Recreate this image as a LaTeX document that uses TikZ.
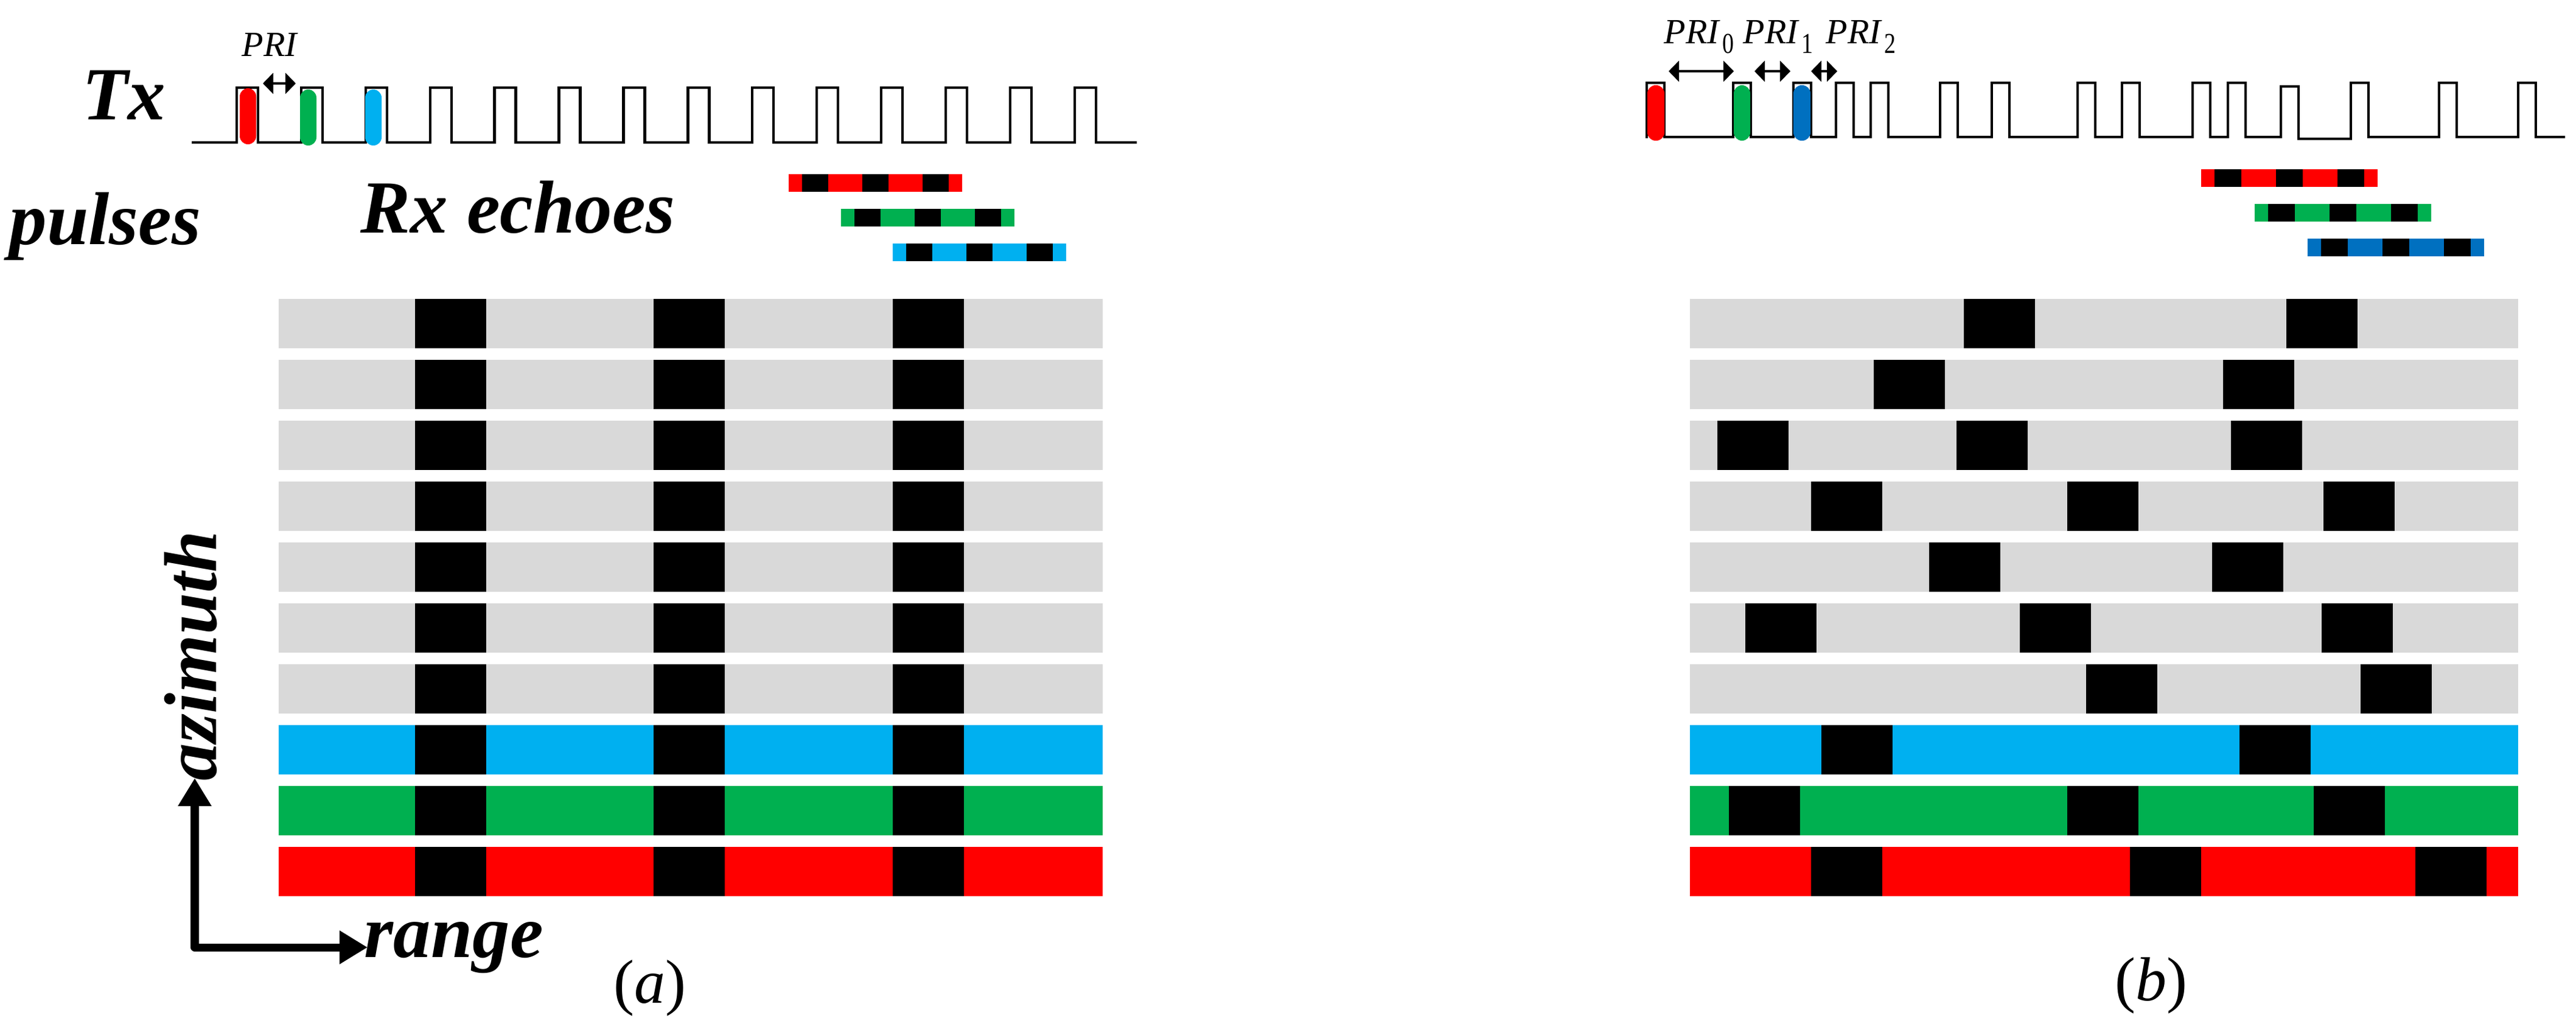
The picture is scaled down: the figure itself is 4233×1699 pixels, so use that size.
\documentclass[tikz,border=0pt]{standalone}
\usepackage{fontspec}
\setmainfont{Liberation Serif}
\usetikzlibrary{arrows.meta}
\definecolor{cgrey}{HTML}{D9D9D9}
\definecolor{ccyan}{HTML}{00B0F0}
\definecolor{cgreen}{HTML}{00B050}
\definecolor{cred}{HTML}{FF0000}
\definecolor{cblue}{HTML}{0070C0}
\tikzset{
  bigl/.style={font=\fontsize{35pt}{40pt}\selectfont\bfseries\itshape, inner sep=0pt},
  pril/.style={font=\fontsize{16.5pt}{20pt}\selectfont\itshape, inner sep=0pt},
  capl/.style={font=\fontsize{29pt}{34pt}\selectfont, inner sep=0pt},
  train/.style={line width=1.25pt, line join=miter, line cap=rect},
  priarrow/.style={line width=1.1pt, {Triangle[width=0.34cm,length=0.17cm]}-{Triangle[width=0.34cm,length=0.17cm]}},
  axisarrow/.style={line width=3.7pt, line join=round, {Triangle[width=0.52cm,length=0.46cm]}-{Triangle[width=0.52cm,length=0.46cm]}},
  stadium/.style={rounded corners=0.135cm},
}
\newcommand{\echobar}[4]{%
  \fill[#4] (#1,#2) rectangle ++(#3,29);
  \foreach \f in {0.076,0.424,0.772} \fill[black] ({#1+\f*#3},#2) rectangle ++({0.152*#3},29);
}
\newcommand{\subdig}[1]{\hspace{0.06cm}\raisebox{-0.16cm}{\fontsize{13.5pt}{14pt}\selectfont\upshape\scalebox{0.8}[1]{#1}}}
\begin{document}
\begin{tikzpicture}[x=0.01cm,y=-0.01cm]
\useasboundingbox (0,0) rectangle (4233,1699);

% ---------------- left panel (a) ----------------
\node[bigl, anchor=base west] (tx) at (135,196) {Tx};
\node[bigl, anchor=base west] (pulses) at (15,401) {pulses};
\node[bigl, anchor=base west] (rx) at (592,382) {Rx echoes};

% pulse train
\draw[train] (317,234)
  \foreach \k in {0,...,13} { -- ({389+105.9*\k},234) -- ({389+105.9*\k},144) -- ({424+105.9*\k},144) -- ({424+105.9*\k},234) }
  -- (1866,234);
\fill[cred, stadium] (394,145) rectangle (421,237);
\fill[cgreen, stadium] (493,147) rectangle (520,239);
\fill[ccyan, stadium] (600,147) rectangle (627,239);

% PRI
\node[pril, anchor=base west] (pri) at (397,92) {PRI};
\coordinate (priA) at (432,137);
\coordinate (priB) at (486,137);
\draw[priarrow] (priA) -- (priB);

% echoes
\echobar{1296}{286}{285}{cred}
\echobar{1382}{343}{285}{cgreen}
\echobar{1467}{400}{285}{ccyan}

% grid
\foreach \i/\c in {0/cgrey,1/cgrey,2/cgrey,3/cgrey,4/cgrey,5/cgrey,6/cgrey,7/ccyan,8/cgreen,9/cred} {
  \fill[\c] (458,{491+100*\i}) rectangle ++(1354,81);
  \foreach \x in {682,1074,1467} \fill[black] (\x,{491+100*\i}) rectangle ++(117,81);
}

% axes
\coordinate (corner) at (320,1556);
\coordinate (ytip) at (320,1278);
\coordinate (xtip) at (604,1556);
\draw[axisarrow] (ytip) -- (corner) -- (xtip);
\node[bigl, anchor=base west] (range) at (598,1572) {range};
\node[bigl, anchor=base west, rotate=90] (azimuth) at (355,1283) {azimuth};

\node[capl] (capa) at (1068,1623) {(\textit{a})};

% ---------------- right panel (b) ----------------
\draw[train] (2706,225)
  \foreach \r/\t/\pb/\b in {2706/136/225/225,2848/136/225/225,2947/136/225/225,3017/136/225/225,3074/136/225/225,3188/136/225/225,3273/136/225/225,3414/136/225/225,3487/136/225/225,3603/136/225/225,3661/136/225/225,3748/142/225/228,3863/136/228/225,4008/136/225/225,4138/136/225/225}
  { -- (\r,\pb) -- (\r,\t) -- ({\r+29},\t) -- ({\r+29},\b) }
  -- (4213,225);
\fill[cred, stadium] (2707,140) rectangle (2735,231);
\fill[cgreen, stadium] (2849,140) rectangle (2876,231);
\fill[cblue, stadium] (2947,140) rectangle (2975,231);

\node[pril, anchor=base west] (pri0) at (2734,71) {PRI\subdig{0}};
\node[pril, anchor=base west] (pri1) at (2864,71) {PRI\subdig{1}};
\node[pril, anchor=base west] (pri2) at (3000,71) {PRI\subdig{2}};
\coordinate (p0a) at (2742,117); \coordinate (p0b) at (2849,117);
\coordinate (p1a) at (2883,117); \coordinate (p1b) at (2942,117);
\coordinate (p2a) at (2976,117); \coordinate (p2b) at (3019,117);
\draw[priarrow] (p0a) -- (p0b);
\draw[priarrow] (p1a) -- (p1b);
\draw[priarrow] (p2a) -- (p2b);

\echobar{3617}{278}{290}{cred}
\echobar{3705}{335}{290}{cgreen}
\echobar{3792}{392}{290}{cblue}

\foreach \i/\c in {0/cgrey,1/cgrey,2/cgrey,3/cgrey,4/cgrey,5/cgrey,6/cgrey,7/ccyan,8/cgreen,9/cred}
  \fill[\c] (2777,{491+100*\i}) rectangle ++(1361,81);
\foreach \r/\x in {0/3227,0/3757,1/3079,1/3653,2/2822,2/3215,2/3666,3/2976,3/3397,3/3818,4/3170,4/3635,5/2868,5/3319,5/3815,6/3428,6/3879,7/2993,7/3680,8/2841,8/3397,8/3802,9/2976,9/3500,9/3969}
  \fill[black] (\x,{491+100*\r}) rectangle ++(117,81);

\node[capl] (capb) at (3535,1619) {(\textit{b})};
\end{tikzpicture}
\end{document}
